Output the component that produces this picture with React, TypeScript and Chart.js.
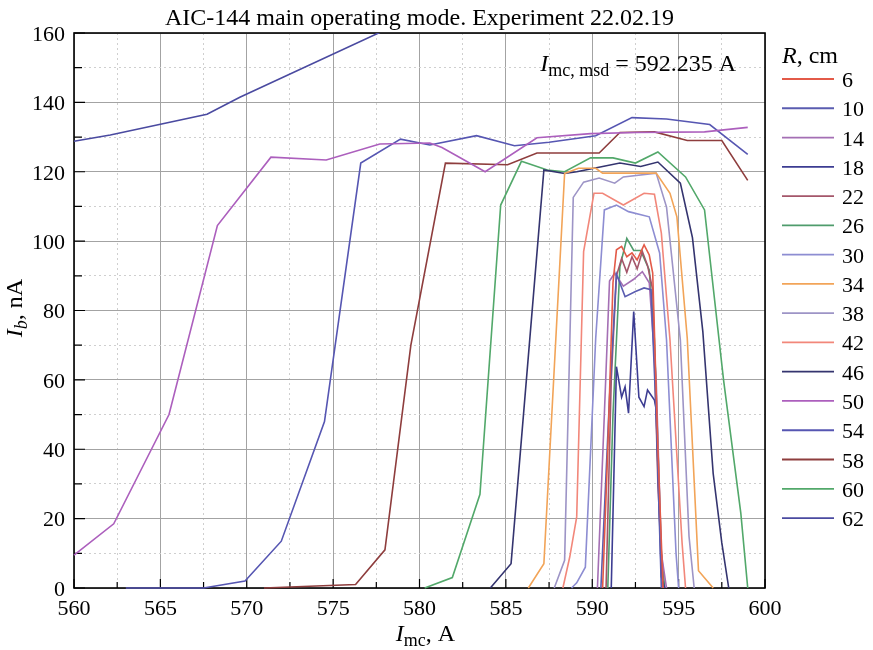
import React, { useEffect, useRef } from 'react';
import { Chart, registerables } from 'chart.js';

Chart.register(...registerables);

const SERIF = "'Liberation Serif', 'Times New Roman', Times, serif";

// ---- axes ----
const X_MIN = 560;
const X_MAX = 600;
const X_STEP = 2.5;
const X_LABEL_STEP = 5;
const Y_MIN = 0;
const Y_MAX = 160;
const Y_STEP = 10;
const Y_LABEL_STEP = 20;

const TITLE = 'AIC-144 main operating mode. Experiment 22.02.19';
const MSD_VALUE = '592.235';

// ---- series (R, cm) ----
const radii = ['6', '10', '14', '18', '22', '26', '30', '34', '38', '42', '46', '50', '54', '58', '60', '62'];
const colors = [
  '#e35a48', '#5a5cb0', '#a46fb4', '#3c3c92', '#a4566a', '#4f9c6c', '#8d8dd2', '#f2a458',
  '#9d94c6', '#f2877a', '#34346f', '#ac5fbd', '#5656b2', '#8e3d3d', '#52a86a', '#4a4aa0',
];

// I_mc (A) and I_b (nA) for each radius
const r6I = [590.6, 590.9, 591.2, 591.4, 591.7, 592.0, 592.3, 592.6, 593.0, 593.3, 593.5, 593.8, 594.1];
const r6Ib = [0, 40, 88, 97.5, 98.5, 95.5, 96.6, 94.6, 98.9, 96, 90.8, 40, 0];

const r10I = [590.5, 591.0, 591.4, 591.9, 592.5, 593.0, 593.4, 593.7, 594.0];
const r10Ib = [0, 55, 90.5, 84, 85.5, 86.5, 86, 50, 0];

const r14I = [590.3, 590.7, 591.0, 591.3, 591.8, 592.4, 592.9, 593.3, 593.7, 594.0, 594.3];
const r14Ib = [0, 50, 88.5, 90.8, 87, 89, 91.2, 88, 60, 10, 0];

const r18I = [591.1, 591.4, 591.7, 591.9, 592.1, 592.4, 592.7, 593.0, 593.2, 593.6, 593.7, 594.0, 594.2];
const r18Ib = [0, 63.8, 55, 58, 50.4, 79.7, 55, 52.3, 57.1, 54.2, 51.5, 3.3, 0];

const r22I = [590.8, 591.1, 591.4, 591.7, 592.0, 592.3, 592.6, 592.9, 593.2, 593.5, 593.8, 594.1];
const r22Ib = [0, 60, 90, 95, 91, 95.5, 92, 97, 93, 86, 30, 0];

const r26I = [590.9, 591.2, 591.6, 592.0, 592.4, 592.8, 593.3, 593.6, 594.0, 594.2];
const r26Ib = [0, 50, 92.6, 100.8, 97.3, 97.3, 91.7, 71.5, 10, 0];

const r30I = [588.8, 589.1, 589.6, 590.2, 590.7, 591.4, 592.1, 593.3, 593.9, 594.3, 594.85, 595.0];
const r30Ib = [0, 1.5, 6, 72, 109, 110.4, 108.5, 107, 96.6, 71.5, 10, 0];

const r34I = [586.3, 587.2, 588.4, 589.2, 590.2, 590.6, 593.7, 594.5, 594.9, 595.5, 596.15, 597.0];
const r34Ib = [0, 7, 119.5, 121, 121, 119.6, 119.6, 113.8, 107, 72, 5, 0];

const r38I = [587.8, 588.4, 588.9, 589.5, 590.4, 591.3, 591.8, 593.7, 594.3, 595.1, 595.6, 595.9];
const r38Ib = [0, 8, 112.6, 117, 118.2, 116.7, 118.5, 119.6, 109.8, 71.5, 15, 0];

const r42I = [588.3, 588.7, 589.1, 589.5, 590.1, 590.6, 591.8, 593.0, 593.6, 594.0, 594.5, 595.2, 595.4];
const r42Ib = [0, 9, 20.5, 97, 113.8, 113.8, 110.4, 113.8, 113.5, 102.3, 71.5, 13, 0];

const r46I = [584.1, 585.3, 587.2, 588.4, 589.1, 590.1, 591.6, 592.8, 593.8, 595.1, 595.8, 596.4, 597.0, 597.5, 597.9];
const r46Ib = [0, 7, 120.5, 119.5, 120, 121, 122.5, 121.5, 122.8, 116.7, 101, 74, 33, 13, 0];

const r50I = [560, 562.3, 565.5, 568.3, 571.4, 574.6, 577.7, 580.6, 581.3, 583.8, 586.8, 589.9, 592.5, 596.5, 599];
const r50Ib = [9.5, 18.5, 50, 104.5, 124.2, 123.4, 128, 128.3, 127, 120, 129.8, 131, 131.3, 131.5, 132.8];

const r54I = [563.0, 567.5, 569.9, 572.0, 574.5, 576.6, 578.9, 580.6, 583.3, 585.5, 587.5, 590.2, 592.3, 594.3, 596.8, 599];
const r54Ib = [0, 0, 2, 13.5, 48, 122.5, 129.4, 127.7, 130.4, 127.5, 128.5, 130.4, 135.6, 135.2, 133.6, 125];

const r58I = [571, 576.3, 578.0, 579.5, 581.5, 585.1, 586.8, 590.4, 591.6, 593.6, 595.5, 597.5, 599];
const r58Ib = [0, 1, 11, 70, 122.5, 122, 125.4, 125.4, 131.3, 131.5, 129, 129, 117.5];

const r60I = [580.3, 581.9, 583.5, 584.7, 585.9, 587.4, 588.4, 589.9, 591.2, 592.5, 593.8, 595.4, 596.5, 597.6, 598.6, 599];
const r60Ib = [0, 3, 27, 110.4, 123, 120.5, 120, 124, 124, 122.5, 125.7, 118.5, 109, 60, 21.6, 0];

const r62I = [560, 562.1, 567.7, 569.6, 578.5];
const r62Ib = [128.8, 130.6, 136.6, 141.5, 162];

const currents = [r6I, r10I, r14I, r18I, r22I, r26I, r30I, r34I, r38I, r42I, r46I, r50I, r54I, r58I, r60I, r62I];
const beams = [r6Ib, r10Ib, r14Ib, r18Ib, r22Ib, r26Ib, r30Ib, r34Ib, r38Ib, r42Ib, r46Ib, r50Ib, r54Ib, r58Ib, r60Ib, r62Ib];

// ---- text helpers ----
type Part = { t: string; size: number; italic?: boolean; dy?: number };
const fontOf = (p: Part) => `${p.italic ? 'italic ' : ''}${p.size}px ${SERIF}`;
function partsWidth(ctx: CanvasRenderingContext2D, parts: Part[]) {
  let w = 0;
  for (const p of parts) {
    ctx.font = fontOf(p);
    w += ctx.measureText(p.t).width;
  }
  return w;
}
function drawParts(ctx: CanvasRenderingContext2D, parts: Part[], x: number, y: number) {
  let cx = x;
  for (const p of parts) {
    ctx.font = fontOf(p);
    ctx.fillText(p.t, cx, y + (p.dy || 0));
    cx += ctx.measureText(p.t).width;
  }
}

const MAJOR_GRID = '#a3a3a3';
const MINOR_GRID = '#cfcfcf';

const decorPlugin = {
  id: 'decor',
  beforeDatasetsDraw(chart: any) {
    const { ctx, chartArea: a } = chart;
    const xs = chart.scales.x;
    const ys = chart.scales.y;
    ctx.save();
    ctx.strokeStyle = '#000';
    ctx.lineWidth = 1.2;
    ctx.beginPath();
    xs.ticks.forEach((t: any) => {
      const px = xs.getPixelForValue(t.value);
      const len = t.value % X_LABEL_STEP === 0 ? 9 : 6;
      ctx.moveTo(px, a.bottom);
      ctx.lineTo(px, a.bottom - len);
    });
    ys.ticks.forEach((t: any) => {
      const py = ys.getPixelForValue(t.value);
      const len = t.value % Y_LABEL_STEP === 0 ? 11 : 8;
      ctx.moveTo(a.left, py);
      ctx.lineTo(a.left + len, py);
    });
    ctx.stroke();
    ctx.lineWidth = 1.6;
    ctx.strokeRect(a.left, a.top, a.right - a.left, a.bottom - a.top);
    ctx.restore();
  },
  afterDraw(chart: any) {
    const { ctx, chartArea: a } = chart;
    ctx.save();
    ctx.fillStyle = '#000';
    ctx.textBaseline = 'alphabetic';
    ctx.textAlign = 'left';

    // title
    const titleParts: Part[] = [{ t: TITLE, size: 24 }];
    const tw = partsWidth(ctx, titleParts);
    drawParts(ctx, titleParts, (a.left + a.right) / 2 - tw / 2, 25);

    // x-axis label
    const xl: Part[] = [
      { t: 'I', size: 24, italic: true },
      { t: 'mc', size: 18, dy: 5 },
      { t: ', A', size: 24 },
    ];
    const xw = partsWidth(ctx, xl);
    drawParts(ctx, xl, (a.left + a.right) / 2 + 6 - xw / 2, 641);

    // y-axis label
    const yl: Part[] = [
      { t: 'I', size: 24, italic: true },
      { t: 'b', size: 18, italic: true, dy: 5 },
      { t: ', nA', size: 24 },
    ];
    const yw = partsWidth(ctx, yl);
    ctx.save();
    ctx.translate(22, 308);
    ctx.rotate(-Math.PI / 2);
    drawParts(ctx, yl, -yw / 2, 0);
    ctx.restore();

    // annotation
    const ann: Part[] = [
      { t: 'I', size: 24, italic: true },
      { t: 'mc, msd', size: 18, dy: 5 },
      { t: ` = ${MSD_VALUE} A`, size: 24 },
    ];
    const aw = partsWidth(ctx, ann);
    drawParts(ctx, ann, 736 - aw, 71);

    // legend
    const lx = a.right + 17;
    drawParts(ctx, [{ t: 'R', size: 24, italic: true }, { t: ', cm', size: 24 }], lx, 63);
    chart.data.datasets.forEach((ds: any, i: number) => {
      const y = 79 + i * 29.27;
      ctx.strokeStyle = ds.borderColor;
      ctx.lineWidth = 1.8;
      ctx.beginPath();
      ctx.moveTo(lx, y);
      ctx.lineTo(lx + 52, y);
      ctx.stroke();
      ctx.font = `22px ${SERIF}`;
      ctx.fillText(ds.label, lx + 60, y + 8);
    });
    ctx.restore();
  },
};

export default function App() {
  const ref = useRef<HTMLCanvasElement | null>(null);

  useEffect(() => {
    if (!ref.current) return;
    const datasets = radii.map((r, i) => ({
      label: r,
      data: currents[i].map((x, k) => ({ x, y: beams[i][k] })),
      borderColor: colors[i],
      backgroundColor: colors[i],
      borderWidth: 1.6,
      pointRadius: 0,
      showLine: true,
      fill: false,
      tension: 0,
      clip: { left: 1, top: 0, right: 1, bottom: 2 },
    }));

    const chart = new Chart(ref.current, {
      type: 'scatter',
      data: { datasets },
      options: {
        responsive: false,
        animation: false,
        events: [],
        layout: { padding: { top: 33, right: 108, bottom: 0, left: 0 } },
        plugins: {
          legend: { display: false },
          title: { display: false },
          tooltip: { enabled: false },
        },
        scales: {
          x: {
            type: 'linear',
            min: X_MIN,
            max: X_MAX,
            afterFit: (s: any) => { s.height = 62; },
            ticks: {
              stepSize: X_STEP,
              autoSkip: false,
              maxRotation: 0,
              padding: 8,
              color: '#000',
              font: { family: SERIF, size: 22 },
              callback: (v: any) => (Number(v) % X_LABEL_STEP === 0 ? String(v) : ''),
            },
            grid: {
              drawTicks: false,
              lineWidth: 1,
              color: (c: any) => (c.tick && c.tick.value % X_LABEL_STEP === 0 ? MAJOR_GRID : MINOR_GRID),
            },
            border: {
              display: false,
              dash: (c: any) => (c.tick && c.tick.value % X_LABEL_STEP !== 0 ? [2, 3] : []),
            },
          },
          y: {
            type: 'linear',
            min: Y_MIN,
            max: Y_MAX,
            afterFit: (s: any) => { s.width = 74; },
            ticks: {
              stepSize: Y_STEP,
              autoSkip: false,
              padding: 9,
              labelOffset: 2,
              color: '#000',
              font: { family: SERIF, size: 22 },
              callback: (v: any) => (Number(v) % Y_LABEL_STEP === 0 ? String(v) : ''),
            },
            grid: {
              drawTicks: false,
              lineWidth: 1,
              color: (c: any) => (c.tick && c.tick.value % Y_LABEL_STEP === 0 ? MAJOR_GRID : MINOR_GRID),
            },
            border: {
              display: false,
              dash: (c: any) => (c.tick && c.tick.value % Y_LABEL_STEP !== 0 ? [2, 3] : []),
            },
          },
        },
      },
      plugins: [decorPlugin],
    } as any);

    return () => chart.destroy();
  }, []);

  return (
    <div style={{ position: 'absolute', left: 0, top: 0, width: 873, height: 650, background: '#fff' }}>
      <canvas ref={ref} width={873} height={650} style={{ width: 873, height: 650, display: 'block' }} />
    </div>
  );
}
